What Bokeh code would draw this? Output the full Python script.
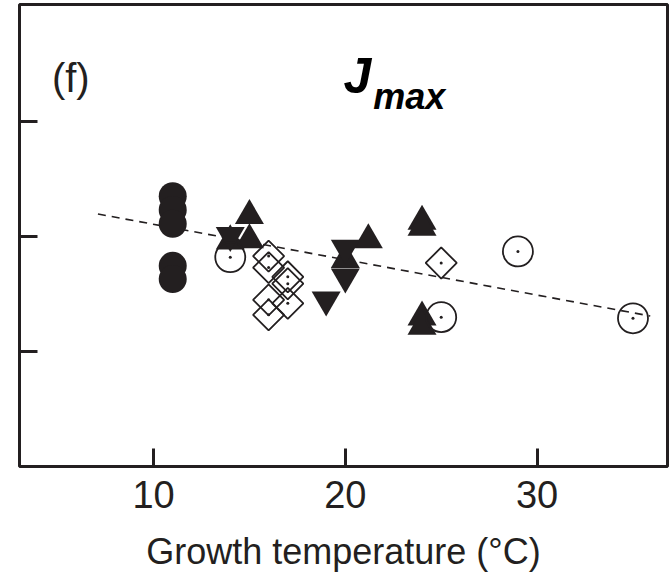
from bokeh.plotting import figure
from bokeh.models import Range1d, FixedTicker, Label
from bokeh.embed import file_html
from bokeh.resources import INLINE
import numpy as np

INK = "#231f20"

# ---- data (growth temperature, relative Jmax) ----
filled_circle_t = [11, 11, 11, 11, 11]
filled_circle_v = [2.35, 2.23, 2.11, 1.745, 1.63]

up_tri_t = [15, 15, 14, 20, 21.2, 24, 24, 24, 24]
up_tri_v = [2.18, 1.97, 1.96, 1.80, 1.97, 2.13, 2.08, 1.30, 1.22]

down_tri_t = [14, 20, 20, 19]
down_tri_v = [2.01, 1.90, 1.65, 1.45]

diamond_t = [16, 16, 17, 17, 16, 16, 17, 25]
diamond_v = [1.83, 1.73, 1.65, 1.59, 1.45, 1.32, 1.42, 1.77]

open_circle_t = [14, 25, 29, 35]
open_circle_v = [1.82, 1.30, 1.87, 1.29]

fit_t = [7.1, 35.9]
fit_v = [2.195, 1.31]

x_ticks = [10, 20, 30]
y_ticks = [1, 2, 3]

FONT = "Liberation Sans"

p = figure(width=670, height=574, output_backend="svg", toolbar_location=None,
           x_range=Range1d(3.01, 36.8), y_range=Range1d(0.004, 4.013),
           min_border_left=19, min_border_right=3, min_border_top=4,
           min_border_bottom=107)
p.xgrid.visible = False
p.ygrid.visible = False
p.background_fill_color = "white"
p.border_fill_color = "white"
p.outline_line_color = INK
p.outline_line_width = 3

# x axis
xa = p.xaxis[0]
xa.ticker = FixedTicker(ticks=x_ticks)
xa.major_tick_in = 18
xa.major_tick_out = 0
xa.major_tick_line_width = 3
xa.major_tick_line_color = INK
xa.minor_tick_line_color = None
xa.axis_line_color = None
xa.major_label_text_font = FONT
xa.major_label_text_font_size = "38px"
xa.major_label_text_color = INK
xa.major_label_standoff = 14
xa.axis_label = "Growth temperature (°C)"
xa.axis_label_text_font = FONT
xa.axis_label_text_font_size = "36px"
xa.axis_label_text_font_style = "normal"
xa.axis_label_text_color = INK
xa.axis_label_standoff = 20

# y axis
ya = p.yaxis[0]
ya.ticker = FixedTicker(ticks=y_ticks)
ya.major_tick_in = 18
ya.major_tick_out = 0
ya.major_tick_line_width = 3
ya.major_tick_line_color = INK
ya.minor_tick_line_color = None
ya.axis_line_color = None
ya.major_label_overrides = {t: "" for t in y_ticks}
ya.major_label_standoff = 0

# regression line
p.line(fit_t, fit_v, line_color=INK, line_width=1.6, line_dash="8 6")

# markers
p.scatter(filled_circle_t, filled_circle_v, marker="circle", size=28,
          fill_color=INK, line_color=None)
p.scatter(up_tri_t, up_tri_v, marker="triangle", size=29,
          fill_color=INK, line_color=None)
p.scatter(down_tri_t, down_tri_v, marker="inverted_triangle", size=29,
          fill_color=INK, line_color=None)
p.scatter(diamond_t, diamond_v, marker="square", size=22, angle=np.pi / 4,
          fill_color=None, line_color=INK, line_width=1.8)
p.scatter(open_circle_t, open_circle_v, marker="circle", size=30,
          fill_color=None, line_color=INK, line_width=1.8)
p.scatter(diamond_t + open_circle_t, diamond_v + open_circle_v, marker="circle",
          size=3, fill_color=INK, line_color=None)

# texts
p.add_layout(Label(x=4.7, y=3.375, text="(f)", text_font=FONT,
                   text_font_size="40px", text_color=INK,
                   text_baseline="alphabetic"))
p.add_layout(Label(x=19.9, y=3.39, text="J", text_font=FONT,
                   text_font_size="50px", text_font_style="bold italic",
                   text_color="black", text_baseline="alphabetic"))
p.add_layout(Label(x=21.45, y=3.215, text="max", text_font=FONT,
                   text_font_size="36px", text_font_style="bold italic",
                   text_color="black", text_baseline="alphabetic"))

open("out.html", "w").write(file_html(p, INLINE))
